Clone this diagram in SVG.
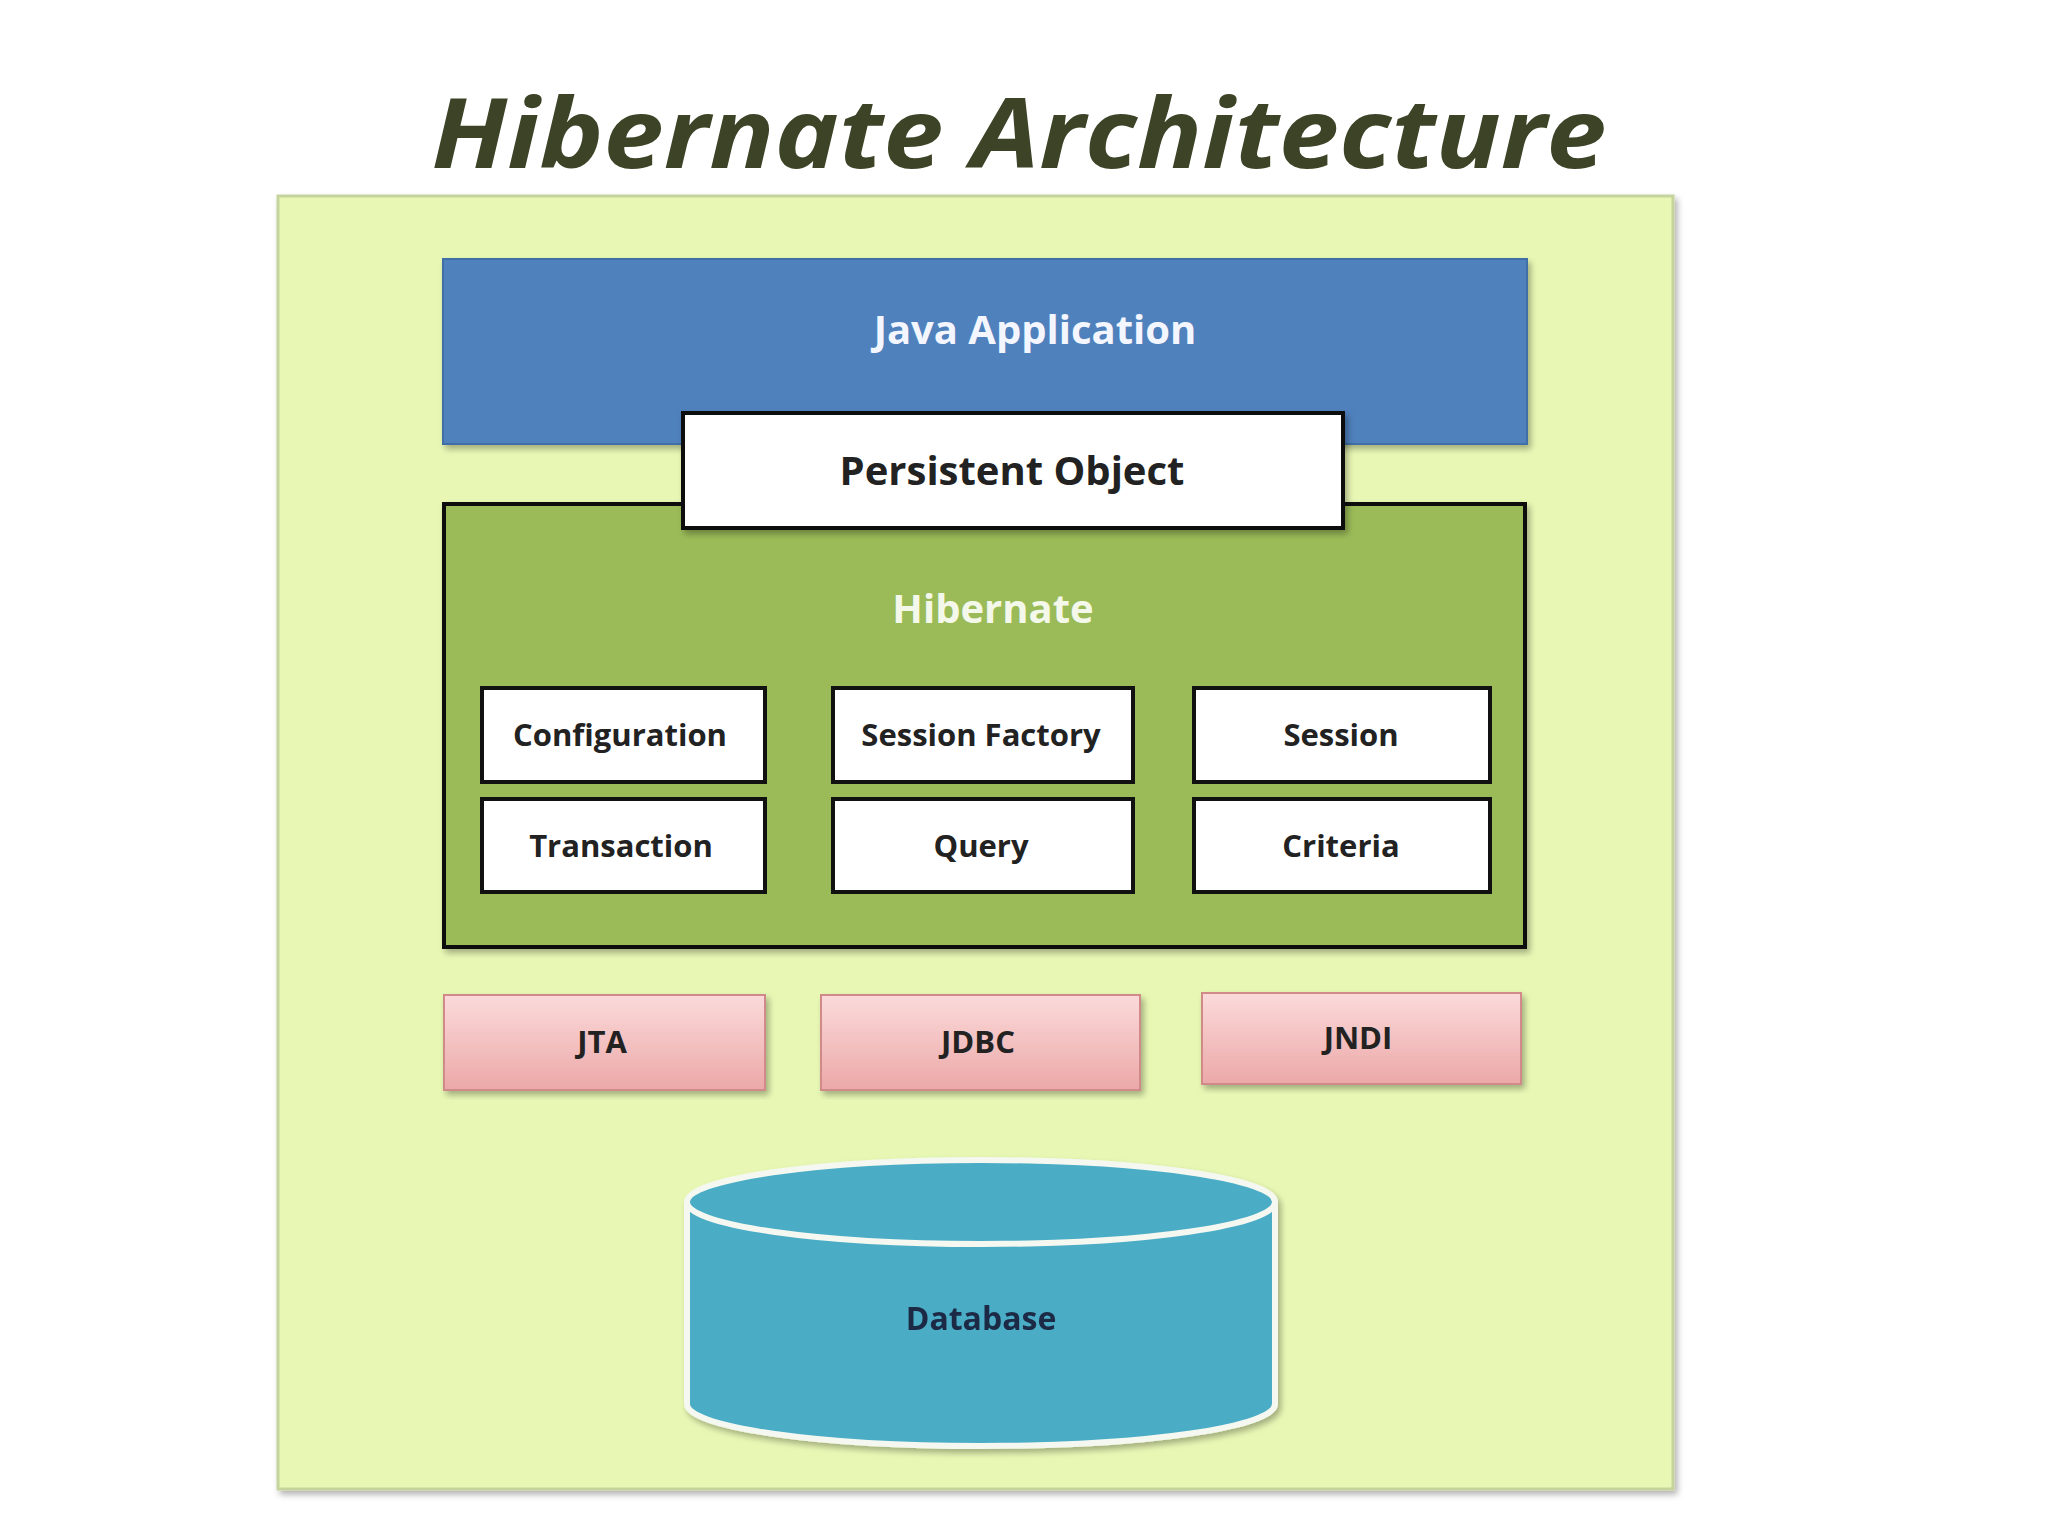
<svg xmlns="http://www.w3.org/2000/svg" width="2048" height="1536" viewBox="0 0 2048 1536">
<style>
text{font-family:"Open Sans","Liberation Sans",sans-serif;font-weight:bold;text-anchor:middle}
.w{fill:#fff;stroke:#111;stroke-width:4}
.s{font-size:31px;fill:#222}
.p{fill:url(#pk);stroke:#d08a8a;stroke-width:2}
.pt{font-size:31px;fill:#222}
</style>
<defs>
<linearGradient id="pk" x1="0" y1="0" x2="0" y2="1"><stop offset="0" stop-color="#fbdada"/><stop offset="1" stop-color="#eca8a8"/></linearGradient>
<filter id="sh" x="-5%" y="-5%" width="110%" height="115%"><feDropShadow dx="3" dy="4" stdDeviation="3" flood-opacity="0.3"/></filter>
</defs>
<rect width="2048" height="1536" fill="#fff"/>
<text x="1019" y="168" font-size="96" font-style="italic" fill="#3c4326" textLength="1175" lengthAdjust="spacingAndGlyphs">Hibernate Architecture</text>
<rect x="278" y="196" width="1395" height="1293" fill="#e8f8b4" stroke="#c5d49c" stroke-width="3" filter="url(#sh)"/>
<g id="java"><rect x="443" y="259" width="1084" height="185" fill="#4f81bd" stroke="#3f6ea6" stroke-width="2" filter="url(#sh)"/><text x="1035" y="344" font-size="40" fill="#f4f6ff">Java Application</text></g>
<g id="hibernate"><rect x="444" y="504" width="1081" height="443" fill="#9bbb59" stroke="#111" stroke-width="4" filter="url(#sh)"/><text x="993" y="623" font-size="40" fill="#f4f8ea">Hibernate</text></g>
<g id="persistent"><rect x="683" y="413" width="660" height="115" class="w" filter="url(#sh)"/><text x="1012" y="485" font-size="40" fill="#222">Persistent Object</text></g>
<g id="configuration"><rect x="482" y="688" width="283" height="94" class="w"/><text x="620" y="746" class="s">Configuration</text></g>
<g id="sessionfactory"><rect x="833" y="688" width="300" height="94" class="w"/><text x="981" y="746" class="s">Session Factory</text></g>
<g id="session"><rect x="1194" y="688" width="296" height="94" class="w"/><text x="1341" y="746" class="s">Session</text></g>
<g id="transaction"><rect x="482" y="799" width="283" height="93" class="w"/><text x="621" y="857" class="s">Transaction</text></g>
<g id="query"><rect x="833" y="799" width="300" height="93" class="w"/><text x="981" y="857" class="s">Query</text></g>
<g id="criteria"><rect x="1194" y="799" width="296" height="93" class="w"/><text x="1341" y="857" class="s">Criteria</text></g>
<g id="jta"><rect x="444" y="995" width="321" height="95" class="p" filter="url(#sh)"/><text x="602" y="1053" class="pt">JTA</text></g>
<g id="jdbc"><rect x="821" y="995" width="319" height="95" class="p" filter="url(#sh)"/><text x="978" y="1053" class="pt">JDBC</text></g>
<g id="jndi"><rect x="1202" y="993" width="319" height="91" class="p" filter="url(#sh)"/><text x="1358" y="1049" class="pt">JNDI</text></g>
<g id="database" filter="url(#sh)">
<path d="M687 1202 V1404 A294 42 0 0 0 1275 1404 V1202" fill="#4bacc6" stroke="#f4f8f0" stroke-width="6"/>
<ellipse cx="981" cy="1202" rx="294" ry="42" fill="#4bacc6" stroke="#f4f8f0" stroke-width="6"/>
<text x="981" y="1330" font-size="32" fill="#1c2a45">Database</text>
</g>
<g id="connectors"/>
</svg>
